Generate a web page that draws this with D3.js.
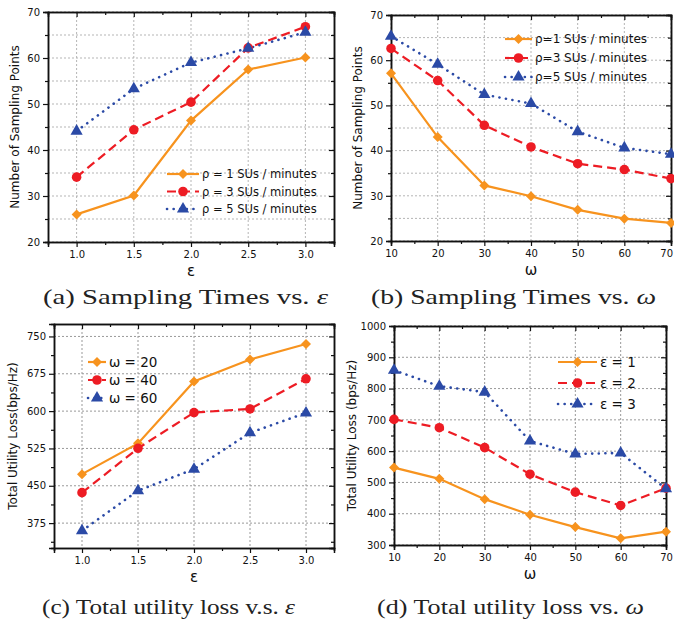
<!DOCTYPE html>
<html>
<head>
<meta charset="utf-8">
<script src="https://cdn.jsdelivr.net/npm/d3@7"></script>
<style>
  body { margin: 0; background: #fff; }
  svg text { font-family: "DejaVu Sans", sans-serif; fill: #111; }
  svg text.caption { font-family: "Liberation Serif", serif; font-size: 21px; fill: #222; }
</style>
</head>
<body>
<svg id="chart" width="674" height="627"></svg>
<script>
// x categories
const epsValues = [1.0, 1.5, 2.0, 2.5, 3.0];
const omegaValues = [10, 20, 30, 40, 50, 60, 70];

// (a) sampling points vs eps
const aRho1 = [26.0, 30.1, 46.4, 57.5, 60.1];
const aRho3 = [34.1, 44.4, 50.4, 62.2, 66.8];
const aRho5 = [44.1, 53.3, 59.0, 62.1, 65.6];

// (b) sampling points vs omega
const bRho1 = [57.1, 43.0, 32.3, 29.9, 26.9, 24.95, 24.0];
const bRho3 = [62.6, 55.5, 45.6, 40.8, 37.1, 35.8, 33.8];
const bRho5 = [65.3, 59.1, 52.4, 50.4, 44.2, 40.6, 39.2];

// (c) utility loss vs eps
const cOmega20 = [473.4, 535.2, 659.6, 703.5, 734.7];
const cOmega40 = [436.2, 525.3, 597.1, 604.4, 664.9];
const cOmega60 = [359.7, 440.2, 483.4, 556.5, 596.4];

// (d) utility loss vs omega
const dEps1 = [547.5, 511.4, 446.6, 396.7, 357.3, 321.2, 342.5];
const dEps2 = [701.5, 675.0, 611.2, 526.2, 468.9, 426.4, 481.6];
const dEps3 = [858.7, 807.7, 788.6, 632.5, 591.0, 594.2, 479.5];

// tick labels
const epsTicks = [1.0, 1.5, 2.0, 2.5, 3.0];
const omegaTicks = [10, 20, 30, 40, 50, 60, 70];
const samplingTicks = [20, 30, 40, 50, 60, 70];
const lossTicksC = [375, 450, 525, 600, 675, 750];
const lossTicksD = [300, 400, 500, 600, 700, 800, 900, 1000];

const legendA = ["\u03c1 = 1 SUs / minutes", "\u03c1 = 3 SUs / minutes", "\u03c1 = 5 SUs / minutes"];
const legendB = ["\u03c1=1 SUs / minutes", "\u03c1=3 SUs / minutes", "\u03c1=5 SUs / minutes"];
const legendC = ["\u03c9 = 20", "\u03c9 = 40", "\u03c9 = 60"];
const legendD = ["\u03b5 = 1", "\u03b5 = 2", "\u03b5 = 3"];

const styles = [
  { color: "#F7931E", dash: null, symbol: d3.symbolSquare, size: 50, rot: 45, cap: "butt", w: 2.2 },
  { color: "#ED1C24", dash: "9,5", symbol: d3.symbolCircle, size: 72, rot: 0, cap: "butt", w: 2.2 },
  { color: "#2B4AA6", dash: "0.1,6.5", symbol: d3.symbolTriangle, size: 64, rot: 0, cap: "round", w: 2.6 }
];

const svg = d3.select("#chart");

function drawPanel(p) {
  const g = svg.append("g");
  const x = d3.scaleLinear().domain(p.xDomain).range([p.left, p.right]);
  const y = d3.scaleLinear().domain(p.yDomain).range([p.bottom, p.top]);

  // grid
  g.append("g").selectAll("line").data(p.yGrid).join("line")
    .attr("x1", p.left).attr("x2", p.right)
    .attr("y1", d => y(d)).attr("y2", d => y(d))
    .attr("stroke", p.gridColor).attr("stroke-width", 1).attr("stroke-dasharray", "2,2");
  g.append("g").selectAll("line").data(p.xTicks).join("line")
    .attr("x1", d => x(d)).attr("x2", d => x(d))
    .attr("y1", p.top).attr("y2", p.bottom)
    .attr("stroke", p.gridColor).attr("stroke-width", 1).attr("stroke-dasharray", "2,2");

  // axes
  g.append("g").attr("transform", `translate(0,${p.bottom})`)
    .call(d3.axisBottom(x).tickValues(p.xTicks).tickFormat(p.xFormat).tickSize(5).tickPadding(4));
  g.append("g").attr("transform", `translate(0,${p.bottom})`)
    .call(d3.axisBottom(x).tickValues(p.xMinor).tickFormat("").tickSize(3));
  g.append("g").attr("transform", `translate(${p.left},0)`)
    .call(d3.axisLeft(y).tickValues(p.yTicks).tickFormat(d3.format("d")).tickSize(5).tickPadding(3));
  g.append("g").attr("transform", `translate(${p.left},0)`)
    .call(d3.axisLeft(y).tickValues(p.yMinor).tickFormat("").tickSize(3));
  // mirrored inward ticks on top / right
  g.append("g").attr("transform", `translate(0,${p.top})`)
    .call(d3.axisTop(x).tickValues(p.xTicks).tickFormat("").tickSize(-5));
  g.append("g").attr("transform", `translate(0,${p.top})`)
    .call(d3.axisTop(x).tickValues(p.xMinor).tickFormat("").tickSize(-3));
  g.append("g").attr("transform", `translate(${p.right},0)`)
    .call(d3.axisRight(y).tickValues(p.yTicks).tickFormat("").tickSize(-5));
  g.append("g").attr("transform", `translate(${p.right},0)`)
    .call(d3.axisRight(y).tickValues(p.yMinor).tickFormat("").tickSize(-3));
  g.selectAll(".domain").attr("stroke", "#111").attr("stroke-width", 1.5);
  g.selectAll(".tick line").attr("stroke", "#111").attr("stroke-width", 1.2);
  g.selectAll(".tick text").attr("font-size", 10).attr("font-family", "DejaVu Sans").attr("fill", "#111");
  // keep a label that would run past the page edge inside it
  g.selectAll(".tick text").filter(function () {
    const b = this.getBBox(), t = this.parentNode.transform.baseVal.consolidate();
    return t && t.matrix.e + b.x + b.width > 674;
  }).attr("text-anchor", "end").attr("x", function () {
    return 673 - this.parentNode.transform.baseVal.consolidate().matrix.e;
  });

  // axis titles
  g.append("text").attr("x", (p.left + p.right) / 2).attr("y", p.bottom + 34)
    .attr("text-anchor", "middle").attr("font-size", 15).text(p.xTitle);
  g.append("text").attr("transform", `translate(${p.yTitleX},${(p.top + p.bottom) / 2}) rotate(-90)`)
    .attr("text-anchor", "middle").attr("font-size", 12).text(p.yTitle);

  // series
  const line = d3.line().x((d, i) => x(p.xs[i])).y(d => y(d));
  p.series.forEach((s, k) => {
    const st = styles[k];
    g.append("path").datum(s).attr("d", line)
      .attr("fill", "none").attr("stroke", st.color).attr("stroke-width", st.w)
      .attr("stroke-dasharray", st.dash).attr("stroke-linecap", st.cap);
  });
  p.series.forEach((s, k) => {
    const st = styles[k];
    g.append("g").selectAll("path").data(s).join("path")
      .attr("transform", (d, i) => `translate(${x(p.xs[i])},${y(d)}) rotate(${st.rot})`)
      .attr("d", d3.symbol().type(st.symbol).size(st.size))
      .attr("fill", st.color);
  });

  // legend
  const lg = g.append("g");
  p.legend.forEach((label, k) => {
    const st = styles[k];
    const ly = p.legendY + k * p.legendGap;
    lg.append("line").attr("x1", p.legendX).attr("x2", p.legendX + p.legendLen)
      .attr("y1", ly).attr("y2", ly)
      .attr("stroke", st.color).attr("stroke-width", st.w)
      .attr("stroke-dasharray", st.dash).attr("stroke-linecap", st.cap);
    lg.append("path").attr("transform", `translate(${p.legendX + p.legendLen / 2},${ly}) rotate(${st.rot})`)
      .attr("d", d3.symbol().type(st.symbol).size(st.size)).attr("fill", st.color);
    lg.append("text").attr("x", p.legendX + p.legendLen + 3).attr("y", ly + p.legendFont * 0.36)
      .attr("font-size", p.legendFont).text(label);
  });

  // caption
  const cap = svg.append("text").attr("class", "caption")
    .attr("x", p.capX).attr("y", p.capY)
    .attr("textLength", p.capW).attr("lengthAdjust", "spacingAndGlyphs");
  cap.append("tspan").text(p.caption);
  cap.append("tspan").attr("font-style", "italic").text(p.capSym);
}

const epsMinor = [0.75, 1.25, 1.75, 2.25, 2.75, 3.25];
const omegaMinor = [15, 25, 35, 45, 55, 65];

drawPanel({
  left: 48, right: 334, top: 12, bottom: 242,
  xDomain: [0.75, 3.25], yDomain: [20, 70],
  xs: epsValues, series: [aRho1, aRho3, aRho5],
  xTicks: epsTicks, xMinor: epsMinor, xFormat: d3.format(".1f"),
  yTicks: samplingTicks, yMinor: [25, 35, 45, 55, 65], yGrid: d3.range(20, 71, 5),
  gridColor: "#b5b5b5",
  xTitle: "\u03b5", yTitle: "Number of Sampling Points", yTitleX: 19,
  legend: legendA, legendX: 167, legendY: 174, legendGap: 17.5, legendLen: 32, legendFont: 11.5,
  caption: "(a) Sampling Times vs. ", capSym: "\u03b5", capX: 43, capY: 304, capW: 285
});

drawPanel({
  left: 391, right: 671, top: 15, bottom: 241,
  xDomain: [10, 70], yDomain: [20, 70],
  xs: omegaValues, series: [bRho1, bRho3, bRho5],
  xTicks: omegaTicks, xMinor: omegaMinor, xFormat: d3.format("d"),
  yTicks: samplingTicks, yMinor: [25, 35, 45, 55, 65], yGrid: d3.range(20, 71, 5),
  gridColor: "#b5b5b5",
  xTitle: "\u03c9", yTitle: "Number of Sampling Points", yTitleX: 362,
  legend: legendB, legendX: 505, legendY: 39, legendGap: 19, legendLen: 27, legendFont: 12,
  caption: "(b) Sampling Times vs. ", capSym: "\u03c9", capX: 371, capY: 304, capW: 285
});

drawPanel({
  left: 54, right: 334, top: 324, bottom: 548,
  xDomain: [0.75, 3.25], yDomain: [325, 775],
  xs: epsValues, series: [cOmega20, cOmega40, cOmega60],
  xTicks: epsTicks, xMinor: epsMinor, xFormat: d3.format(".1f"),
  yTicks: lossTicksC, yMinor: [337.5, 412.5, 487.5, 562.5, 637.5, 712.5], yGrid: lossTicksC,
  gridColor: "#999",
  xTitle: "\u03b5", yTitle: "Total Utility Loss(bps/Hz)", yTitleX: 17,
  legend: legendC, legendX: 88, legendY: 362, legendGap: 18, legendLen: 18, legendFont: 13.5,
  caption: "(c) Total utility loss v.s. ", capSym: "\u03b5", capX: 42, capY: 614, capW: 253
});

drawPanel({
  left: 394, right: 666, top: 326, bottom: 545,
  xDomain: [10, 70], yDomain: [300, 1000],
  xs: omegaValues, series: [dEps1, dEps2, dEps3],
  xTicks: omegaTicks, xMinor: omegaMinor, xFormat: d3.format("d"),
  yTicks: lossTicksD, yMinor: [350, 450, 550, 650, 750, 850, 950], yGrid: lossTicksD,
  gridColor: "#999",
  xTitle: "\u03c9", yTitle: "Total Utility Loss (bps/Hz)", yTitleX: 356,
  legend: legendD, legendX: 558, legendY: 362, legendGap: 21, legendLen: 39, legendFont: 13.5,
  caption: "(d) Total utility loss vs. ", capSym: "\u03c9", capX: 377, capY: 614, capW: 267
});
</script>
</body>
</html>
